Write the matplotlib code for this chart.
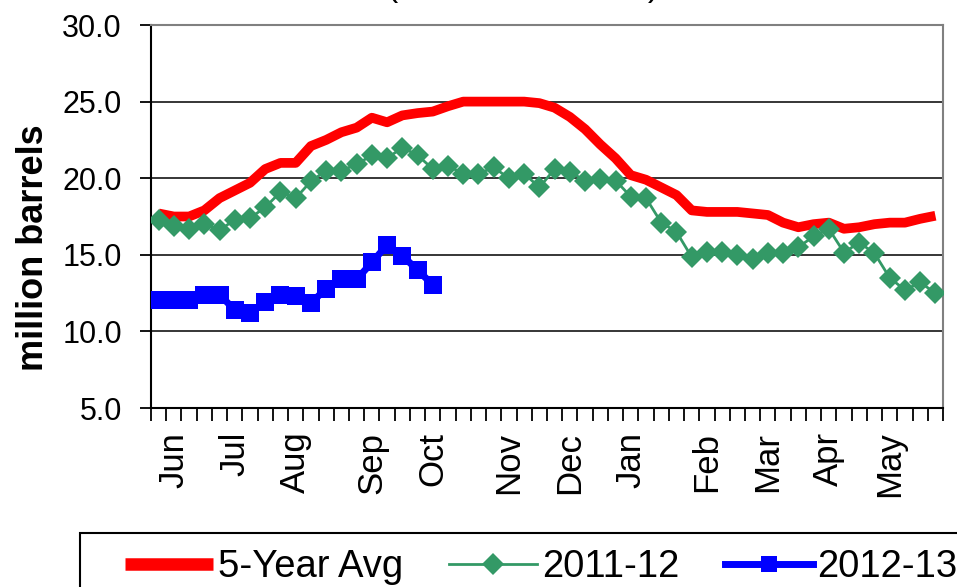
import numpy as np
import matplotlib
matplotlib.use('Agg')
import matplotlib.pyplot as plt
from matplotlib.patches import Rectangle

plt.rcParams['font.family'] = ['Liberation Sans', 'DejaVu Sans']

# weekly categories, late May .. May
weeks = np.arange(52)
month_names = ['Jun', 'Jul', 'Aug', 'Sep', 'Oct', 'Nov', 'Dec', 'Jan', 'Feb', 'Mar', 'Apr', 'May']
month_weeks = [1, 5, 9, 14, 18, 23, 27, 31, 36, 40, 44, 48]

avg5 = [17.7, 17.5, 17.5, 17.9, 18.7, 19.2, 19.7, 20.6, 21.0, 21.0,
        22.1, 22.5, 23.0, 23.3, 23.95, 23.65, 24.1, 24.25, 24.35, 24.7,
        25.0, 25.0, 25.0, 25.0, 25.0, 24.9, 24.6, 24.0, 23.2, 22.2,
        21.3, 20.2, 19.9, 19.4, 18.9, 17.9, 17.8, 17.8, 17.8, 17.7,
        17.6, 17.1, 16.8, 17.0, 17.1, 16.7, 16.8, 17.0, 17.1, 17.1,
        17.35, 17.55]

y2011 = [17.3, 16.9, 16.7, 17.0, 16.6, 17.3, 17.4, 18.1, 19.1, 18.7,
         19.8, 20.5, 20.5, 20.9, 21.5, 21.3, 22.0, 21.5, 20.6, 20.8,
         20.3, 20.3, 20.7, 20.0, 20.3, 19.4, 20.6, 20.4, 19.85, 19.95,
         19.85, 18.8, 18.7, 17.1, 16.5, 14.85, 15.2, 15.2, 15.0, 14.7,
         15.1, 15.15, 15.5, 16.2, 16.7, 15.15, 15.8, 15.1, 13.5, 12.7,
         13.2, 12.5]

y2012 = [12.05, 12.05, 12.05, 12.4, 12.4, 11.4, 11.2, 11.95, 12.4, 12.3,
         11.85, 12.8, 13.45, 13.4, 14.5, 15.65, 14.95, 14.0, 13.05]

fig = plt.figure(figsize=(9.57, 5.87), dpi=100)
ax = fig.add_axes([0.1578, 0.3049, 0.8276, 0.6525])

ax.plot(weeks, avg5, color='#FF0000', lw=7, solid_capstyle='butt', label='5-Year Avg', zorder=3)
ax.plot(weeks, y2011, color='#339966', lw=2, marker='D', markersize=11,
        markeredgewidth=0, label='2011-12', zorder=4)
ax.plot(weeks[:len(y2012)], y2012, color='#0000FF', lw=5, marker='s', markersize=12.5,
        markeredgewidth=0, label='2012-13', zorder=5)

ax.set_xlim(-0.5, 51.5)
ax.set_ylim(5, 30)
ax.set_yticks([5, 10, 15, 20, 25, 30])
ax.set_yticklabels(['%.1f' % v for v in [5, 10, 15, 20, 25, 30]], fontsize=22)
ax.yaxis.grid(True, color='#262626', lw=1.3)
ax.set_axisbelow(True)

ax.set_xticks(month_weeks)
ax.set_xticklabels(month_names, rotation=90, fontsize=25)
ax.set_xticks(np.arange(-0.5, 52, 1), minor=True)
ax.tick_params(axis='x', which='major', length=0, pad=17)
ax.tick_params(axis='x', which='minor', length=9, width=1.3, direction='out', color='black')
ax.tick_params(axis='y', length=8, width=1.3, pad=13, color='black')

for side in ['top', 'right']:
    ax.spines[side].set_color('#808080')
    ax.spines[side].set_linewidth(1.5)
for side in ['left', 'bottom']:
    ax.spines[side].set_color('black')
    ax.spines[side].set_linewidth(1.5)

ax.set_ylabel('million barrels', fontsize=26, fontweight='bold')
ax.yaxis.set_label_coords(-0.126, 0.418)

# title is mostly cut off at the top of the picture
fig.text(0.547, 1.006, '(PADD 2 Midwest)', ha='center', va='baseline', fontsize=24)

# legend box runs off the bottom and right edges
fig.patches.append(Rectangle((80 / 957, -0.1), 1.0, 0.1 + (587 - 533) / 587,
                             transform=fig.transFigure, fill=False,
                             edgecolor='black', lw=1.5))
leg = fig.legend(loc='center left', bbox_to_anchor=(125 / 957, 1 - 567 / 587), ncol=3,
                 fontsize=27.5, frameon=False,
                 handlelength=2.3, handletextpad=0.13, columnspacing=1.2,
                 borderpad=0, borderaxespad=0, numpoints=1)
leg.get_lines()[0].set_linewidth(9)
leg.get_lines()[2].set_markersize(11)

plt.savefig('out.png', dpi=100)
